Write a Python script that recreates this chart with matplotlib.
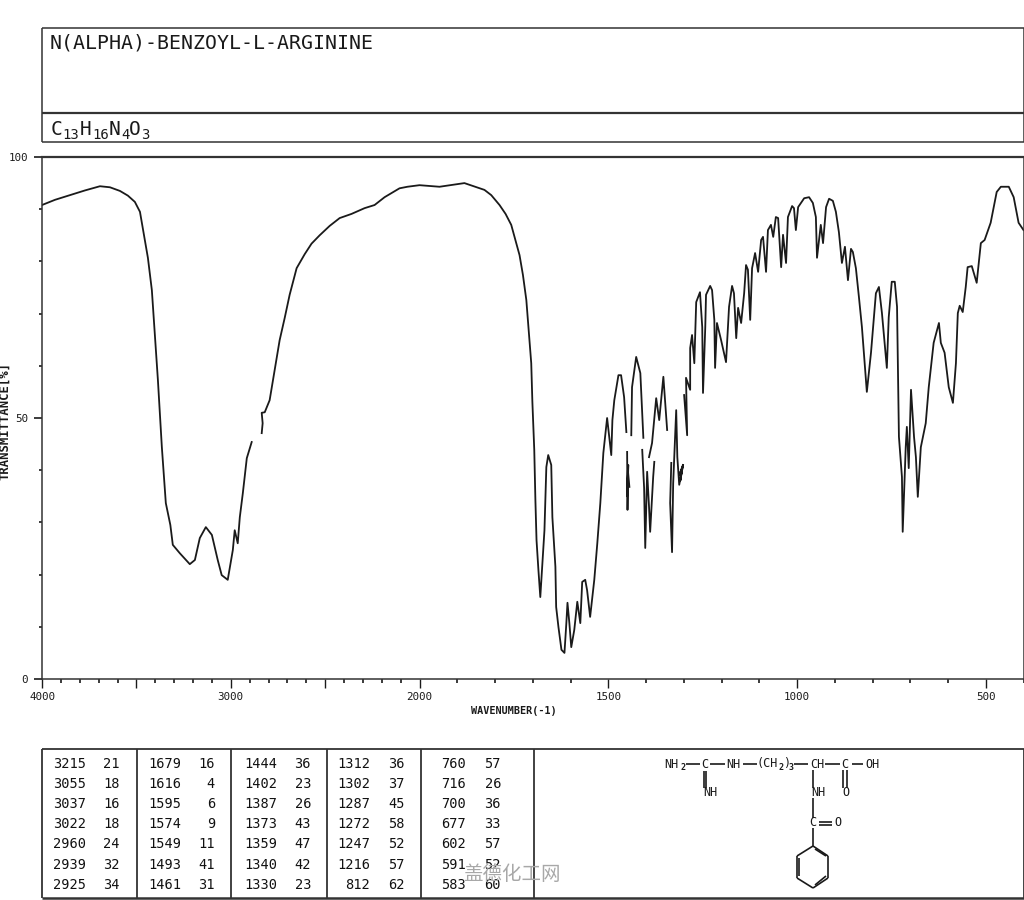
import numpy as np
import matplotlib
matplotlib.use('Agg')
import matplotlib.pyplot as plt
from matplotlib.ticker import FixedLocator, FixedFormatter

nan = float('nan')

title = 'N(ALPHA)-BENZOYL-L-ARGININE'

# spectrum, nan = pen gap in the original trace
wavenumber = [
    4000, 3931, 3852, 3772, 3693, 3640, 3587, 3545, 3508, 3481, 3455, 3439, 3418,
    3386, 3365, 3344, 3320, 3307, 3270,
    3217, 3190, 3164, 3132, 3100, 3069, 3048, 3016, 2989, 2979, 2963, 2952,
    2936, 2915, 2889, nan,
    2836, 2831, 2836, 2820, 2794, 2741, 2714, 2688, 2651, 2608, 2572, 2529, 2476,
    2423, 2360, 2291, 2238, 2185, 2148, 2106, 2064,
    2000, 1947, 1881, 1828, 1810, 1788, 1772, 1757, 1735, 1726, 1717, 1704, 1701, 1696,
    1693, 1690, 1685, 1680, 1675, 1669, 1664, 1659, 1651, 1648, 1640, 1638,
    1632, 1624, 1616, 1611, 1608, 1603, 1598, 1590, 1582, 1574, 1569, 1561,
    1556, 1548, 1537, 1529, 1521, 1513, 1503, 1492, 1489, 1484, 1473, 1466,
    1458, 1452, nan,
    1450, 1449, 1447, 1450, 1448, 1444, nan,
    1439, 1437, 1426, 1415, 1407, nan,
    1410, 1405, 1402, 1397, 1392, 1389, 1381, 1378, nan,
    1392, 1384, 1373, 1365, 1360, 1354, 1344, nan,
    1333, 1336, 1331, 1328, 1320, 1317, 1312, 1302, 1309, 1304, 1312, 1302, nan,
    1299, 1291, 1294, 1283, 1283, 1278, 1272, 1267, 1257, 1251, 1249, 1243,
    1241, 1230, 1225, 1219, 1217, 1212, 1201, 1188, 1180, 1172, 1167, 1161,
    1156, 1148, 1140, 1135, 1130, 1124, 1119, 1111, 1103, 1095, 1090, 1082,
    1077, 1069, 1063, 1056, 1050, 1042, 1037, 1029, 1024, 1013, 1008, 1003,
    997, 981, 968, 958, 950, 947, 937, 931, 923, 915, 905, 897,
    889, 881, 873, 865, 857, 852, 844, 836, 828, 815, 804, 791,
    783, 775, 762, 757, 749, 741, 735, 730, 722, 720, 712, 709,
    704, 698, 690, 685, 680, 672, 659, 651, 638, 624, 619, 609,
    598, 587, 579, 574, 569, 561, 553, 548, 537, 524, 513, 503,
    487, 471, 460, 439, 426, 413, 400,
]
transmittance = [
    90.8, 91.8, 92.7, 93.6, 94.4, 94.2, 93.5, 92.6, 91.4, 89.5, 84.1, 80.7, 74.5,
    57.3, 44.4, 33.7, 29.5, 25.7, 24.1,
    22.0, 22.8, 27.0, 29.1, 27.6, 22.8, 19.9, 19.0, 24.7, 28.5, 26.0, 31.0,
    35.6, 42.3, 45.4, nan,
    47.1, 49.0, 51.0, 51.1, 53.4, 64.9, 69.2, 73.6, 78.7, 81.4, 83.4, 85.0, 86.8,
    88.3, 89.1, 90.2, 90.8, 92.3, 93.1, 94.0, 94.3,
    94.6, 94.3, 95.0, 93.7, 92.7, 90.8, 89.1, 87.0, 81.2, 77.4, 72.6, 60.5, 53.1, 43.9,
    34.3, 26.6, 20.9, 15.7, 21.5, 28.5, 40.6, 42.9, 41.0, 31.0, 21.5, 13.8,
    10.0, 5.6, 5.0, 10.7, 14.6, 10.7, 6.1, 9.4, 14.8, 10.7, 18.6, 19.0,
    17.0, 11.9, 19.0, 26.0, 33.7, 43.3, 50.0, 42.9, 49.6, 53.4, 58.2, 58.2,
    54.0, 47.3, nan,
    43.5, 32.4, 41.0, 35.0, 40.0, 36.8, nan,
    46.7, 55.9, 61.7, 58.6, 46.2, nan,
    43.9, 36.6, 25.1, 39.7, 33.0, 28.2, 38.7, 41.6, nan,
    42.5, 45.2, 53.8, 49.6, 53.4, 57.9, 47.7, nan,
    41.4, 33.7, 24.3, 37.5, 51.5, 42.5, 37.2, 41.0, 38.0, 40.5, 39.0, 41.0, nan,
    54.4, 46.7, 57.7, 55.4, 63.4, 65.9, 60.5, 72.2, 74.1, 67.4, 54.8, 67.4,
    73.6, 75.3, 74.5, 68.8, 59.6, 68.2, 64.9, 60.7, 71.3, 75.3, 73.9, 65.3,
    71.1, 68.2, 73.9, 79.3, 78.4, 68.8, 78.7, 81.6, 78.0, 84.1, 84.7, 78.0,
    86.0, 87.0, 84.7, 88.5, 88.3, 78.9, 85.1, 79.7, 88.5, 90.6, 90.2, 86.0,
    90.4, 92.1, 92.3, 91.2, 88.5, 80.7, 87.0, 83.5, 90.4, 92.0, 91.6, 89.5,
    85.6, 79.7, 82.8, 76.4, 82.4, 81.8, 78.7, 73.2, 67.4, 55.0, 62.5, 73.9,
    75.1, 70.1, 59.6, 69.3, 76.1, 76.1, 71.3, 46.4, 38.7, 28.2, 44.4, 48.3,
    40.4, 55.4, 46.4, 42.5, 34.9, 44.4, 49.0, 55.9, 64.4, 68.2, 64.4, 62.5,
    55.9, 52.9, 60.5, 70.1, 71.5, 70.3, 75.1, 78.9, 79.1, 75.9, 83.5, 84.1,
    87.4, 93.3, 94.3, 94.3, 92.3, 87.4, 86.0,
]

# peak table, one list per column block
peak_wn = [
    [3215, 3055, 3037, 3022, 2960, 2939, 2925],
    [1679, 1616, 1595, 1574, 1549, 1493, 1461],
    [1444, 1402, 1387, 1373, 1359, 1340, 1330],
    [1312, 1302, 1287, 1272, 1247, 1216, 812],
    [760, 716, 700, 677, 602, 591, 583],
]
peak_t = [
    [21, 18, 16, 18, 24, 32, 34],
    [16, 4, 6, 9, 11, 41, 31],
    [36, 23, 26, 43, 47, 42, 23],
    [36, 37, 45, 58, 52, 57, 62],
    [57, 26, 36, 33, 57, 52, 60],
]

MONO = 'DejaVu Sans Mono'
INK = '#1a1a1a'


def forward(w):
    # the chart changes scale at 2000: above it 1 unit is half as wide
    w = np.asarray(w, dtype=float)
    return np.where(w <= 2000, w, 2000 + (w - 2000) / 2)


def inverse(p):
    p = np.asarray(p, dtype=float)
    return np.where(p <= 2000, p, 2000 + (p - 2000) * 2)


fig = plt.figure(figsize=(10.24, 9), dpi=100, facecolor='white')

# page layer in pixels for the boxes, table and structure
page = fig.add_axes([0, 0, 1, 1])
page.set_xlim(0, 1024)
page.set_ylim(900, 0)
page.axis('off')

ax = fig.add_axes([42 / 1024, 1 - 679 / 900, (1023.5 - 42) / 1024, (679 - 157) / 900])
ax.patch.set_alpha(0)
ax.set_xscale('function', functions=(forward, inverse))
ax.set_xlim(4000, 400)
ax.set_ylim(0, 100)
ax.plot(wavenumber, transmittance, color=INK, lw=1.3)

ax.xaxis.set_major_locator(FixedLocator([4000, 3500, 3000, 2500, 2000, 1500, 1000, 500]))
ax.xaxis.set_major_formatter(FixedFormatter(['4000', '', '3000', '', '2000', '1500', '1000', '500']))
ax.xaxis.set_minor_locator(FixedLocator(list(range(400, 4000, 100))))
ax.yaxis.set_major_locator(FixedLocator([0, 50, 100]))
ax.yaxis.set_minor_locator(FixedLocator(list(range(0, 101, 10))))
ax.tick_params(axis='x', which='major', length=6.5, width=1, pad=2.5, color=INK, labelcolor=INK, labelsize=7.8)
ax.tick_params(axis='x', which='minor', length=3, width=1.2, color=INK)
ax.tick_params(axis='y', which='major', length=6, width=1.2, pad=4, color=INK, labelcolor=INK, labelsize=7.8)
ax.tick_params(axis='y', which='minor', length=2.5, width=1.2, color=INK)
for lab in ax.get_xticklabels() + ax.get_yticklabels():
    lab.set_family(MONO)
ax.spines['top'].set_linewidth(1.6)
for s in ['left', 'bottom', 'right']:
    ax.spines[s].set_linewidth(1.1)
for s in ax.spines.values():
    s.set_color('#333333')

page.text(513.5, 711, 'WAVENUMBER(-1)', family=MONO, weight='bold', size=7.3, color=INK,
          ha='center', va='center')
page.text(5, 421, 'TRANSMITTANCE[%]', family=MONO, weight='bold', size=8.8, color=INK,
          rotation=90, ha='center', va='center')


def hline(y, x0, x1, lw=1.1):
    page.plot([x0, x1], [y, y], color='#333333', lw=lw, solid_capstyle='butt')


def vline(x, y0, y1, lw=1.1):
    page.plot([x, x], [y0, y1], color='#333333', lw=lw, solid_capstyle='butt')


# title box
hline(28, 42, 1023.5)
hline(113, 42, 1023.5, 1.6)
hline(142, 42, 1023.5)
vline(42, 28, 142)
vline(1023.5, 28, 142)
page.text(50, 43, title, family=MONO, size=14.3, color=INK, ha='left', va='center')

# formula, drawn piece by piece because of the subscripts
formula = [('C', 51, 14), ('13', 62, 10), ('H', 80, 14), ('16', 92, 10),
           ('N', 109, 14), ('4', 121, 10), ('O', 129, 14), ('3', 141, 10)]
for piece, x, size in formula:
    y = 135 if size == 14 else 139
    page.text(x, y, piece, family=MONO, size=size, color=INK, ha='left', va='baseline')

# peak table
hline(749, 42, 1023.5, 1.3)
hline(898, 42, 1023.5, 1.8)
for x in [42, 137, 231, 326.5, 421, 534, 1023.5]:
    vline(x, 749, 898, 1.3)
row_y = [764, 784, 804, 824, 844, 865, 885]
wn_right = [86, 181, 277, 370, 466]
t_right = [120, 215, 311, 405, 501]
for c in range(5):
    for r in range(7):
        page.text(wn_right[c], row_y[r], str(peak_wn[c][r]), family=MONO, size=9.8, color='#111111',
                  ha='right', va='center')
        page.text(t_right[c], row_y[r], str(peak_t[c][r]), family=MONO, size=9.8, color='#111111',
                  ha='right', va='center')

# structure
labels = [('NH', 671, 764), ('C', 705, 764), ('NH', 733, 764), ('(CH', 767, 764), (')', 787, 764),
          ('CH', 817, 764), ('C', 845, 764), ('OH', 873, 764), ('NH', 710, 793),
          ('NH', 818, 793), ('O', 846, 793), ('C', 813, 823), ('O', 838, 823)]
for s, x, y in labels:
    page.text(x, y, s, family=MONO, size=8.6, color=INK, ha='center', va='center')
for s, x, y in [('2', 683, 767), ('2', 781, 768), ('3', 791, 767)]:
    page.text(x, y, s, family=MONO, weight='bold', size=6, color=INK, ha='center', va='center')
bonds = [((686, 764), (700, 764)), ((710, 764), (725, 764)), ((743, 764), (757, 764)),
         ((794, 764), (808, 764)), ((825, 764), (840, 764)), ((852, 764), (863, 764)),
         ((704, 771), (704, 788)), ((706, 771), (706, 788)),
         ((813, 770), (813, 788)), ((813, 798), (813, 818)),
         ((843, 770), (843, 788)), ((847, 770), (847, 788)),
         ((819, 822), (832, 822)), ((819, 824.5), (832, 824.5)), ((813, 828), (813, 846))]
ring = [(813, 846), (828, 856), (828, 878), (813, 888), (797, 878), (797, 856), (813, 846)]
inner = [((815, 849), (826, 856)), ((826, 876), (815, 885)), ((799, 858), (799, 876))]
for a, b in bonds + inner + list(zip(ring[:-1], ring[1:])):
    page.plot([a[0], b[0]], [a[1], b[1]], color=INK, lw=1.2, solid_capstyle='butt')

# watermark over the table
page.text(512, 875, '盖德化工网', family=['Noto Sans CJK SC', 'DejaVu Sans'], size=14,
          weight='light', color='#a8a8a8', ha='center', va='center')

fig.savefig('out.png', dpi=100)
